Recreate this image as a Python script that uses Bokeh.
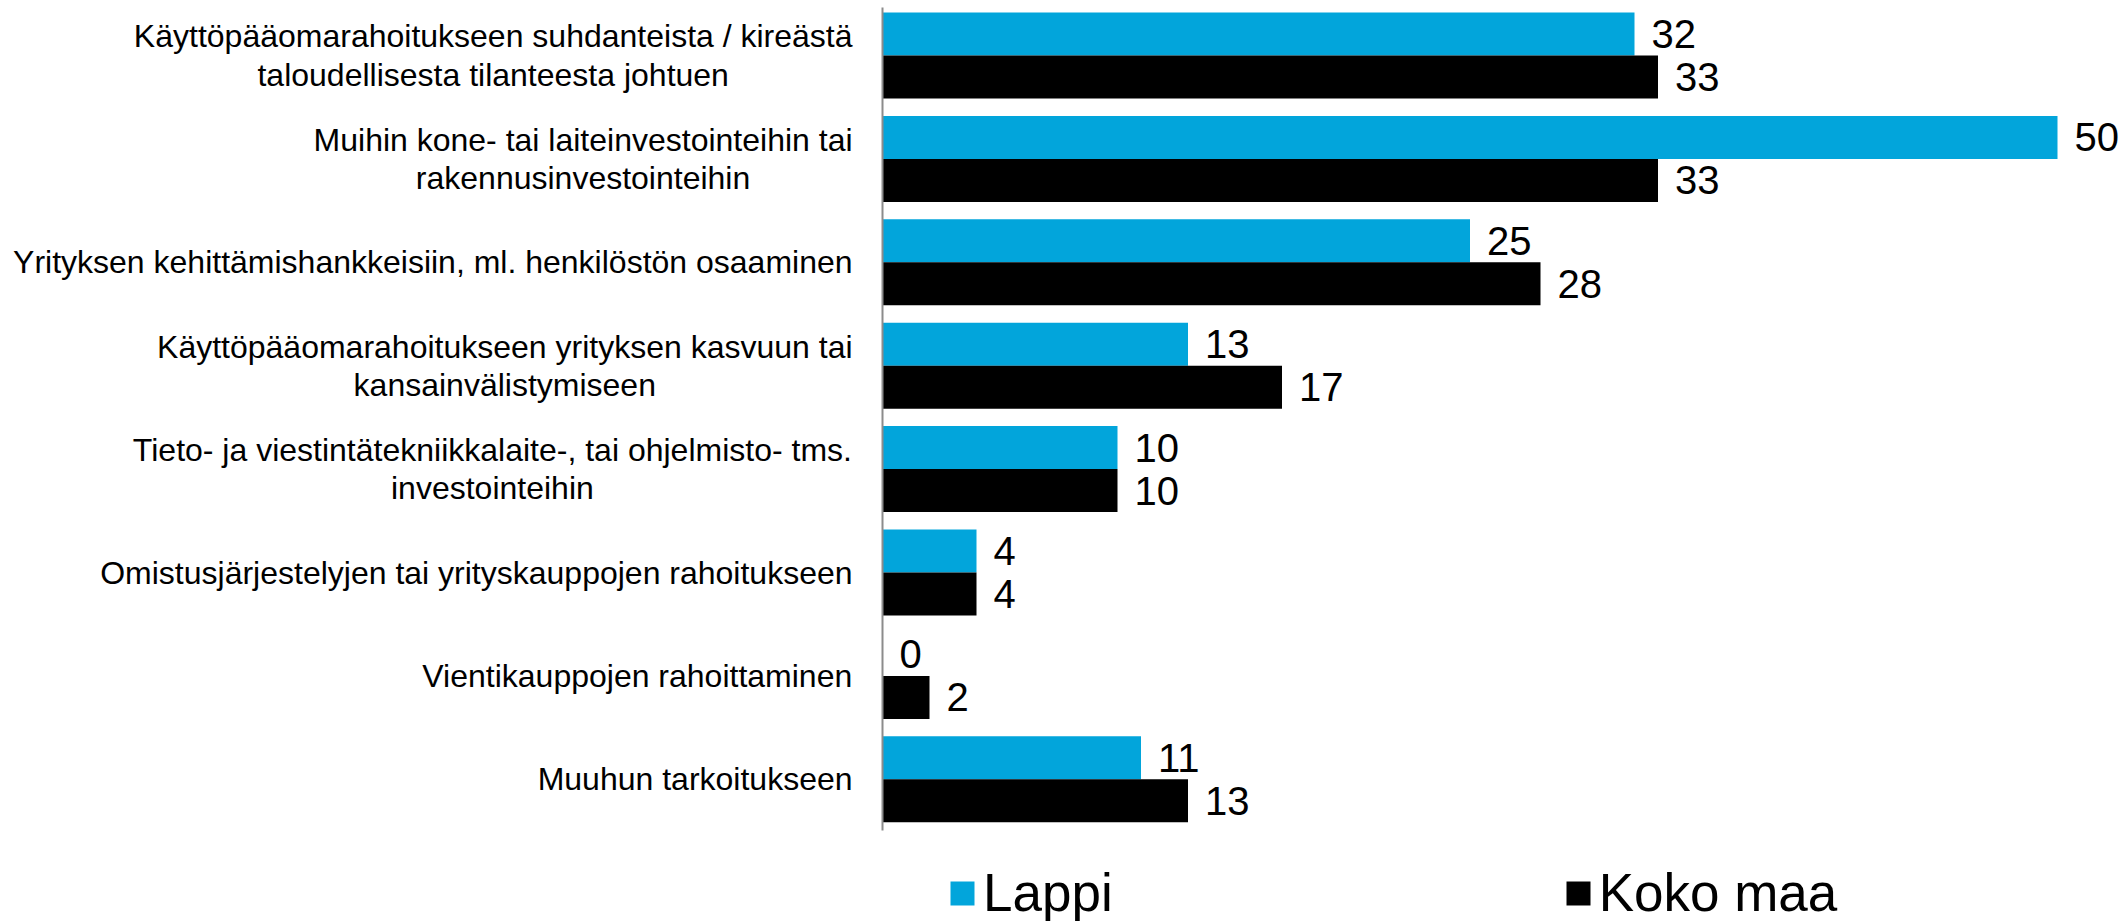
from bokeh.plotting import figure
from bokeh.models import ColumnDataSource, Range1d, Legend, LegendItem
from bokeh.core.properties import value
from bokeh.embed import file_html
from bokeh.resources import INLINE

categories = [
    "Käyttöpääomarahoitukseen suhdanteista / kireästä\ntaloudellisesta tilanteesta johtuen",
    "Muihin kone- tai laiteinvestointeihin tai\nrakennusinvestointeihin",
    "Yrityksen kehittämishankkeisiin, ml. henkilöstön osaaminen",
    "Käyttöpääomarahoitukseen yrityksen kasvuun tai\nkansainvälistymiseen",
    "Tieto- ja viestintätekniikkalaite-, tai ohjelmisto- tms.\ninvestointeihin",
    "Omistusjärjestelyjen tai yrityskauppojen rahoitukseen",
    "Vientikauppojen rahoittaminen",
    "Muuhun tarkoitukseen",
]
lappi = [32, 50, 25, 13, 10, 4, 0, 11]
koko_maa = [33, 33, 28, 17, 10, 4, 2, 13]
series_names = ["Lappi", "Koko maa"]

BLUE = "#02A5DB"
BLACK = "#000000"
FONT = "Liberation Sans"
W, H = 2128, 921
AXIS_PX = 882          # x pixel of value 0
PX_PER_UNIT = 23.5
GROUP_PX = 103.4
FIRST_CENTER_PX = 55
LABEL_SIZE = 32
LABEL_GAP = 30

# Arial / Liberation Sans advance widths (per 1000 em) to centre multi-line labels
AW = dict(a=556, b=556, c=500, d=556, e=556, f=278, g=556, h=556, i=222, j=222, k=500,
          l=222, m=833, n=556, o=556, p=556, q=556, r=333, s=500, t=278, u=556, v=500,
          w=722, x=500, y=500, z=500, K=667, M=833, Y=667, T=611, O=778, V=667)
AW.update({" ": 278, "/": 278, ",": 278, ".": 278, "-": 333, "ä": 556, "ö": 556})


def text_width(s, size):
    return max(sum(AW.get(ch, 556) for ch in line) for line in s.split("\n")) * size / 1000.0


idx = list(range(len(categories)))
top = -FIRST_CENTER_PX / GROUP_PX
bottom = top + H / GROUP_PX
bar_h = 43 / GROUP_PX

src_l = ColumnDataSource(dict(y=[i - bar_h / 2 for i in idx], v=lappi, t=[str(v) for v in lappi]))
src_k = ColumnDataSource(dict(y=[i + bar_h / 2 for i in idx], v=koko_maa, t=[str(v) for v in koko_maa]))
src_c = ColumnDataSource(dict(y=idx, x=[0] * len(idx), t=categories,
                              xo=[-(LABEL_GAP + text_width(c, LABEL_SIZE) / 2) for c in categories]))

p = figure(width=W, height=H, output_backend="svg", toolbar_location=None,
           x_axis_location=None, y_axis_location=None,
           x_range=Range1d(-AXIS_PX / PX_PER_UNIT, (W - AXIS_PX) / PX_PER_UNIT),
           y_range=Range1d(bottom, top),
           min_border=0, min_border_left=0, min_border_right=0, min_border_top=0, min_border_bottom=0)
p.xgrid.visible = False
p.ygrid.visible = False
p.outline_line_color = None

r_l = p.hbar(y="y", left=0, right="v", height=bar_h, source=src_l, fill_color=BLUE, line_color=None)
r_k = p.hbar(y="y", left=0, right="v", height=bar_h, source=src_k, fill_color=BLACK, line_color=None)

# category axis line
p.segment(x0=0, x1=0, y0=top + 7 / GROUP_PX, y1=top + 830 / GROUP_PX, line_color="#8c8c8c", line_width=2)

for src in (src_l, src_k):
    p.text(x="v", y="y", text="t", source=src, x_offset=17, text_baseline="middle",
           text_align="left", text_font=value(FONT), text_font_size="40px", text_color="#000000")

p.text(x="x", y="y", text="t", source=src_c, x_offset="xo", text_align="center",
       text_baseline="middle", text_font=value(FONT), text_font_size=f"{LABEL_SIZE}px",
       text_color="#000000", text_line_height=1.06)

legend = Legend(items=[LegendItem(label=series_names[0], renderers=[r_l]),
                       LegendItem(label=series_names[1], renderers=[r_k])],
                location=(947, -2), orientation="horizontal",
                label_text_font=FONT, label_text_font_size="53px", label_text_color="#000000",
                glyph_width=30, glyph_height=30, label_standoff=6, spacing=450,
                padding=0, margin=0, border_line_color=None, background_fill_alpha=0)
p.add_layout(legend, "center")

open("out.html", "w").write(file_html(p, INLINE))
